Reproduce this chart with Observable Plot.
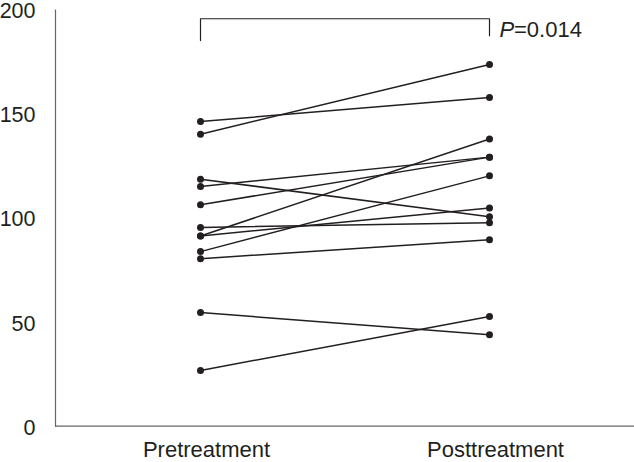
<!DOCTYPE html>
<html>
<head>
<meta charset="utf-8">
<script src="https://cdn.jsdelivr.net/npm/d3@7"></script>
<script src="https://cdn.jsdelivr.net/npm/@observablehq/plot@0.6"></script>
<style>
  html, body { margin: 0; padding: 0; background: #fff; }
  #chart svg { display: block; overflow: visible; }
</style>
</head>
<body>
<div id="chart"></div>
<script>
const groups = ["Pretreatment", "Posttreatment"];
const preValues  = [146.4, 140.3, 118.7, 115.2, 106.4, 95.5, 91.4, 91.4, 83.9, 80.5, 54.6, 26.8];
const postValues = [158.0, 173.8, 100.7, 129.3, 129.3, 97.8, 138.0, 104.9, 120.3, 89.6, 43.9, 52.7];
const yTicks = [0, 50, 100, 150, 200];
const bracketTop = 195.8;
const bracketLeftEnd = 185.3;
const bracketRightEnd = 187.6;
const pLabelY = 190.5;
const pValueText = "=0.014";

const rows = [];
preValues.forEach((v, i) => {
  rows.push({id: i, group: groups[0], value: v});
  rows.push({id: i, group: groups[1], value: postValues[i]});
});
const bracket = [
  {group: groups[0], value: bracketLeftEnd},
  {group: groups[0], value: bracketTop},
  {group: groups[1], value: bracketTop},
  {group: groups[1], value: bracketRightEnd}
];

const ink = "#231f20";
const chart = Plot.plot({
  width: 634,
  height: 462,
  marginLeft: 55,
  marginRight: 0,
  marginTop: 9.5,
  marginBottom: 36.3,
  style: {fontFamily: "'Liberation Sans', Arial, sans-serif", fontSize: "22px", color: ink, background: "#fff", overflow: "visible"},
  x: {type: "point", domain: groups, padding: 0.5, label: null},
  y: {domain: [0, 200], label: null},
  marks: [
    Plot.axisY({ticks: yTicks, tickSize: 0, tickPadding: 20, fontSize: 21.5, label: null, fill: ink, dy: 1.5}),
    Plot.axisX({tickSize: 0, tickPadding: 15.5, fontSize: 22, label: null, fill: ink, dx: 6}),
    Plot.ruleY([0], {stroke: "#666", strokeWidth: 1.2}),
    Plot.frame({anchor: "left", stroke: "#666", strokeWidth: 1.2}),
    Plot.line(rows, {x: "group", y: "value", z: "id", stroke: ink, strokeWidth: 1.5}),
    Plot.dot(rows, {x: "group", y: "value", r: 3.5, fill: ink, stroke: "none"}),
    Plot.line(bracket, {x: "group", y: "value", stroke: ink, strokeWidth: 1.2}),
    Plot.text([groups[1]], {x: d => d, y: () => pLabelY, text: () => "P", dx: 10, textAnchor: "start", fontStyle: "italic", fontSize: 22, fill: ink}),
    Plot.text([groups[1]], {x: d => d, y: () => pLabelY, text: () => pValueText, dx: 24.5, textAnchor: "start", fontSize: 22, fill: ink})
  ]
});
document.getElementById("chart").appendChild(chart);
</script>
</body>
</html>
